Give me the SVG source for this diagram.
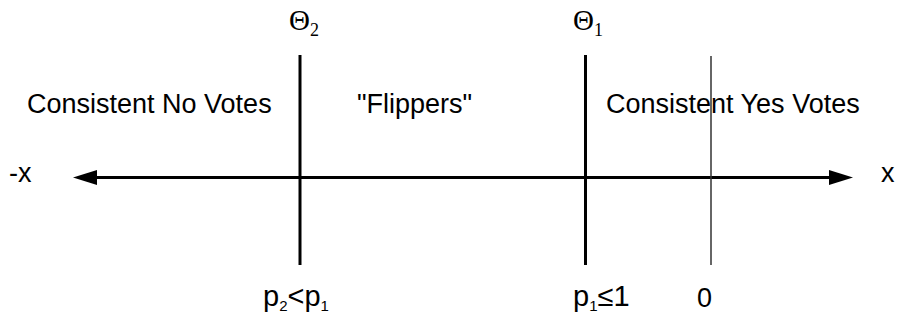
<svg xmlns="http://www.w3.org/2000/svg" width="898" height="320" viewBox="0 0 898 320">
<style>
.t{font-family:"Liberation Sans",Arial,sans-serif;font-size:27px;fill:#000}
.p{font-family:"Liberation Sans",Arial,sans-serif;font-size:29px;fill:#000}
.s{font-size:15px}
.ts{font-size:18px}
.th{font-family:"Liberation Serif","Times New Roman",serif;font-size:29px;fill:#000}
.thick{stroke:#000;stroke-width:3;fill:none}
.thin{stroke:#333;stroke-width:1.5;fill:none}
</style>
<rect width="898" height="320" fill="#fff"/>
<g id="connectors">
<line class="thick" x1="96" y1="177.5" x2="830" y2="177.5"/>
<polygon points="73,177.5 97,170 97,185" fill="#000"/>
<polygon points="853,177.5 829,170 829,185" fill="#000"/>
</g>
<g id="theta2">
<line class="thick" x1="300" y1="55" x2="300" y2="265"/>
<text class="th" x="289" y="30">Θ<tspan class="ts" dy="6">2</tspan></text>
</g>
<g id="theta1">
<line class="thick" x1="585.5" y1="55" x2="585.5" y2="265"/>
<text class="th" x="573" y="30">Θ<tspan class="ts" dy="6">1</tspan></text>
</g>
<g id="zero">
<line class="thin" x1="711" y1="56" x2="711" y2="265"/>
<text class="t" x="697" y="307">0</text>
</g>
<g id="labels">
<text class="t" x="27" y="113">Consistent No Votes</text>
<text class="t" x="357" y="113">"Flippers"</text>
<text class="t" x="606" y="113">Consistent Yes Votes</text>
<text class="t" x="9" y="182">-x</text>
<text class="t" x="881" y="182">x</text>
<text class="p" x="263" y="306">p<tspan class="s" dy="5">2</tspan><tspan dy="-5">&lt;p</tspan><tspan class="s" dy="5">1</tspan></text>
<text class="p" x="573" y="306">p<tspan class="s" dy="5">1</tspan><tspan dy="-5">≤1</tspan></text>
</g>
</svg>
